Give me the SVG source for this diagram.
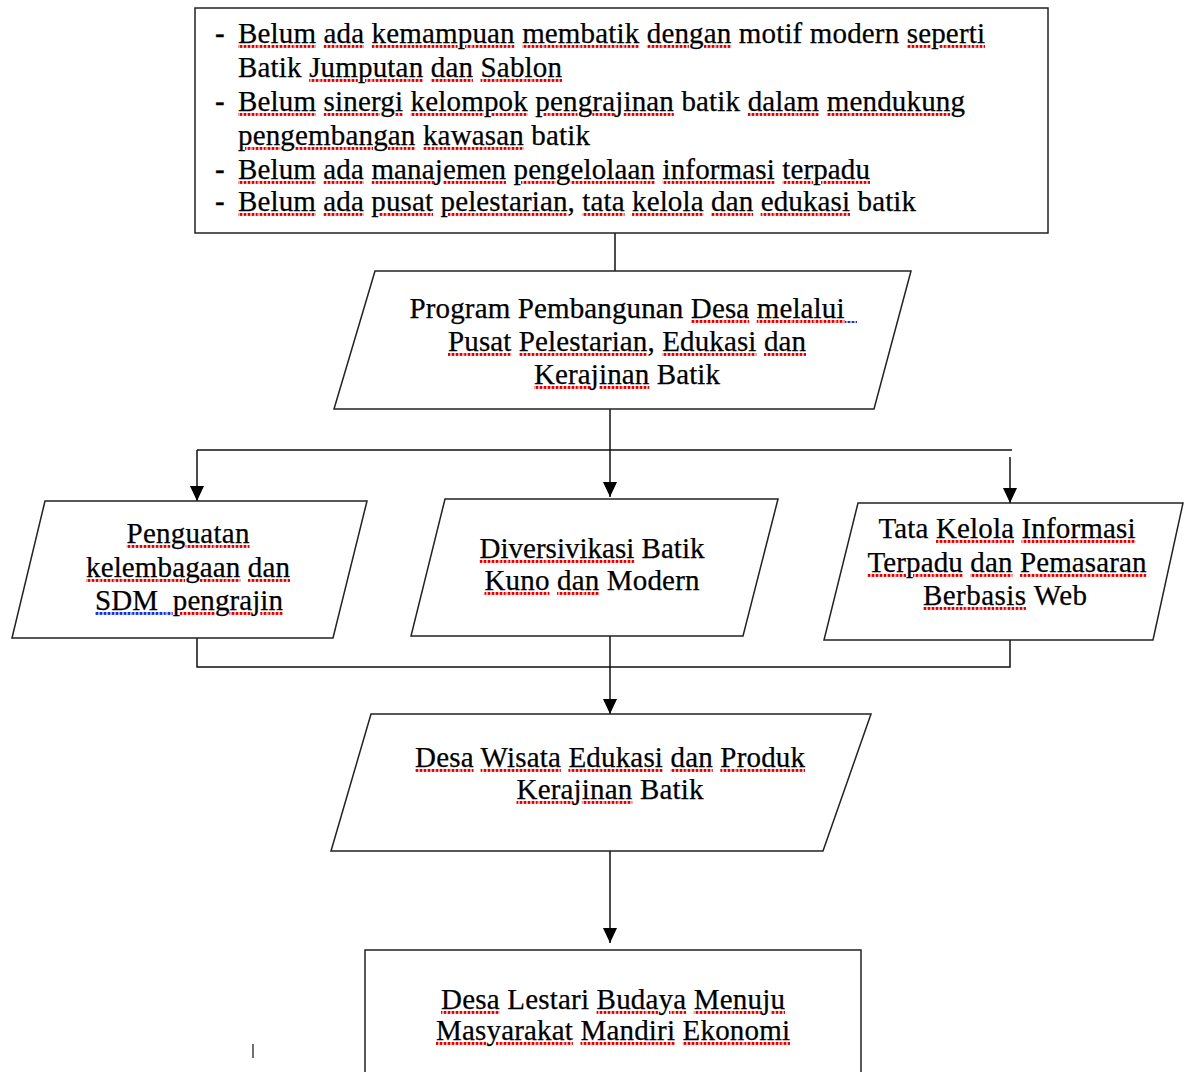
<svg xmlns="http://www.w3.org/2000/svg" width="1184" height="1072" viewBox="0 0 1184 1072">
<style>
.t{font-family:"Liberation Serif","Times New Roman",serif;font-size:29px;fill:#000;stroke:#000;stroke-width:0.25}
.c{text-anchor:middle}
.d{font-weight:bold}
.u{fill:url(#sqr);stroke:none;text-decoration:underline}
.b{fill:url(#sqb);stroke:none;text-decoration:underline}
.k{fill:#000;stroke:#000;stroke-width:0.25}
.box{fill:#fff;stroke:#222;stroke-width:1.5}
.ln{fill:none;stroke:#111;stroke-width:1.5}
</style>
<defs>
<pattern id="sqr" width="4" height="3" patternUnits="userSpaceOnUse">
<rect width="4" height="3" fill="#ff9a9a"/>
<rect x="0" width="2" height="3" fill="#e00000"/>
</pattern>
<pattern id="sqb" width="4" height="3" patternUnits="userSpaceOnUse">
<rect width="4" height="3" fill="#9aa8ff"/>
<rect x="0" width="2" height="3" fill="#1030e0"/>
</pattern>
<marker id="ah" markerWidth="14" markerHeight="16" refX="7" refY="15" orient="0" markerUnits="userSpaceOnUse">
<path d="M0,0 L14,0 L7,15 Z" fill="#000"/>
</marker>
</defs>
<rect width="1184" height="1072" fill="#fff"/>
<g id="connectors">
<path class="ln" d="M615,233 V271"/>
<path class="ln" d="M610,409 V497" marker-end="url(#ah)"/>
<path class="ln" d="M197,450 H1012"/>
<path class="ln" d="M197,450 V501" marker-end="url(#ah)"/>
<path class="ln" d="M1010,457 V503" marker-end="url(#ah)"/>
<path class="ln" d="M197,638 V667 H1010 V640"/>
<path class="ln" d="M610,636 V714" marker-end="url(#ah)"/>
<path class="ln" d="M610,851 V943" marker-end="url(#ah)"/>
</g>
<g id="problems">
<rect class="box" x="195" y="8" width="853" height="225"/>
<text class="t d" x="215" y="43">-</text>
<text class="t" x="238" y="43" textLength="747"><tspan class="u"><tspan class="k">Belum</tspan></tspan> <tspan class="u"><tspan class="k">ada</tspan></tspan> <tspan class="u"><tspan class="k">kemampuan</tspan></tspan> <tspan class="u"><tspan class="k">membatik</tspan></tspan> <tspan class="u"><tspan class="k">dengan</tspan></tspan> motif modern <tspan class="u"><tspan class="k">seperti</tspan></tspan></text>
<text class="t" x="238" y="77" textLength="324">Batik <tspan class="u"><tspan class="k">Jumputan</tspan></tspan> <tspan class="u"><tspan class="k">dan</tspan></tspan> <tspan class="u"><tspan class="k">Sablon</tspan></tspan></text>
<text class="t d" x="215" y="111">-</text>
<text class="t" x="238" y="111" textLength="727"><tspan class="u"><tspan class="k">Belum</tspan></tspan> <tspan class="u"><tspan class="k">sinergi</tspan></tspan> <tspan class="u"><tspan class="k">kelompok</tspan></tspan> <tspan class="u"><tspan class="k">pengrajinan</tspan></tspan> batik <tspan class="u"><tspan class="k">dalam</tspan></tspan> <tspan class="u"><tspan class="k">mendukung</tspan></tspan></text>
<text class="t" x="238" y="145" textLength="352"><tspan class="u"><tspan class="k">pengembangan</tspan></tspan> <tspan class="u"><tspan class="k">kawasan</tspan></tspan> batik</text>
<text class="t d" x="215" y="179">-</text>
<text class="t" x="238" y="179" textLength="632"><tspan class="u"><tspan class="k">Belum</tspan></tspan> <tspan class="u"><tspan class="k">ada</tspan></tspan> <tspan class="u"><tspan class="k">manajemen</tspan></tspan> <tspan class="u"><tspan class="k">pengelolaan</tspan></tspan> <tspan class="u"><tspan class="k">informasi</tspan></tspan> <tspan class="u"><tspan class="k">terpadu</tspan></tspan></text>
<text class="t d" x="215" y="211">-</text>
<text class="t" x="238" y="211" textLength="678"><tspan class="u"><tspan class="k">Belum</tspan></tspan> <tspan class="u"><tspan class="k">ada</tspan></tspan> <tspan class="u"><tspan class="k">pusat</tspan></tspan> <tspan class="u"><tspan class="k">pelestarian</tspan></tspan>, <tspan class="u"><tspan class="k">tata</tspan></tspan> <tspan class="u"><tspan class="k">kelola</tspan></tspan> <tspan class="u"><tspan class="k">dan</tspan></tspan> <tspan class="u"><tspan class="k">edukasi</tspan></tspan> batik</text>
</g>
<g id="program">
<path class="box" d="M375,271 H911 L874,409 H334 Z"/>
<text class="t c" x="627" y="318" textLength="435">Program Pembangunan <tspan class="u"><tspan class="k">Desa</tspan></tspan> <tspan class="u"><tspan class="k">melalui</tspan></tspan></text>
<rect x="845" y="321" width="12" height="2" fill="url(#sqb)"/>
<text class="t c" x="627" y="351" textLength="358"><tspan class="u"><tspan class="k">Pusat</tspan></tspan> <tspan class="u"><tspan class="k">Pelestarian</tspan></tspan>, <tspan class="u"><tspan class="k">Edukasi</tspan></tspan> <tspan class="u"><tspan class="k">dan</tspan></tspan></text>
<text class="t c" x="627" y="384" textLength="186"><tspan class="u"><tspan class="k">Kerajinan</tspan></tspan> Batik</text>
</g>
<g id="penguatan">
<path class="box" d="M45,501 H367 L333,638 H12 Z"/>
<text class="t c" x="188" y="543" textLength="123"><tspan class="u"><tspan class="k">Penguatan</tspan></tspan></text>
<text class="t c" x="188" y="577" textLength="204"><tspan class="u"><tspan class="k">kelembagaan</tspan></tspan> <tspan class="u"><tspan class="k">dan</tspan></tspan></text>
<text class="t c" x="189" y="610" textLength="188" xml:space="preserve"><tspan class="b"><tspan class="k">SDM  </tspan></tspan><tspan class="u"><tspan class="k">pengrajin</tspan></tspan></text>
</g>
<g id="diversivikasi">
<path class="box" d="M445,499 H778 L743,636 H411 Z"/>
<text class="t c" x="592" y="558" textLength="225"><tspan class="u"><tspan class="k">Diversivikasi</tspan></tspan> Batik</text>
<text class="t c" x="592" y="590" textLength="215"><tspan class="u"><tspan class="k">Kuno</tspan></tspan> <tspan class="u"><tspan class="k">dan</tspan></tspan> Modern</text>
</g>
<g id="tatakelola">
<path class="box" d="M858,503 H1183 L1153,640 H824 Z"/>
<text class="t c" x="1007" y="538" textLength="257">Tata <tspan class="u"><tspan class="k">Kelola</tspan></tspan> <tspan class="u"><tspan class="k">Informasi</tspan></tspan></text>
<text class="t c" x="1007" y="572" textLength="279"><tspan class="u"><tspan class="k">Terpadu</tspan></tspan> <tspan class="u"><tspan class="k">dan</tspan></tspan> <tspan class="u"><tspan class="k">Pemasaran</tspan></tspan></text>
<text class="t c" x="1005" y="605" textLength="164"><tspan class="u"><tspan class="k">Berbasis</tspan></tspan> Web</text>
</g>
<g id="desawisata">
<path class="box" d="M371,714 H871 L823,851 H331 Z"/>
<text class="t c" x="610" y="767" textLength="390"><tspan class="u"><tspan class="k">Desa</tspan></tspan> <tspan class="u"><tspan class="k">Wisata</tspan></tspan> <tspan class="u"><tspan class="k">Edukasi</tspan></tspan> <tspan class="u"><tspan class="k">dan</tspan></tspan> <tspan class="u"><tspan class="k">Produk</tspan></tspan></text>
<text class="t c" x="610" y="799" textLength="187"><tspan class="u"><tspan class="k">Kerajinan</tspan></tspan> Batik</text>
</g>
<g id="desalestari">
<rect class="box" x="365" y="950" width="496" height="140"/>
<text class="t c" x="613" y="1009" textLength="344"><tspan class="u"><tspan class="k">Desa</tspan></tspan> Lestari <tspan class="u"><tspan class="k">Budaya</tspan></tspan> <tspan class="u"><tspan class="k">Menuju</tspan></tspan></text>
<text class="t c" x="613" y="1040" textLength="354"><tspan class="u"><tspan class="k">Masyarakat</tspan></tspan> <tspan class="u"><tspan class="k">Mandiri</tspan></tspan> <tspan class="u"><tspan class="k">Ekonomi</tspan></tspan></text>
</g>
<line x1="253" y1="1044" x2="253" y2="1058" stroke="#111" stroke-width="1.2"/>
</svg>
